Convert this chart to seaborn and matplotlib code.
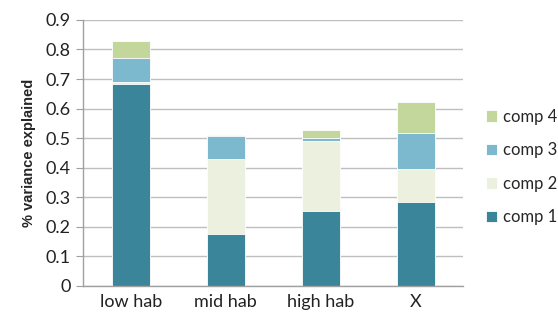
import matplotlib
matplotlib.use("Agg")
import matplotlib.pyplot as plt
import seaborn as sns
import pandas as pd
import numpy as np

categories = ["low hab", "mid hab", "high hab", "X"]
comp1 = [0.682, 0.175, 0.253, 0.284]
comp2 = [0.008, 0.256, 0.236, 0.112]
comp3 = [0.082, 0.076, 0.011, 0.121]
comp4 = [0.055, 0.004, 0.028, 0.107]

comp_names = ["comp 1", "comp 2", "comp 3", "comp 4"]
colors = ["#3A8599", "#EBF1DE", "#7CB9CF", "#C3D69B"]

df = pd.DataFrame({"cat": categories, "comp 1": comp1, "comp 2": comp2,
                   "comp 3": comp3, "comp 4": comp4})
cum = df[comp_names].cumsum(axis=1)

sns.set_style("white")
plt.rcParams["font.family"] = ["Lato", "DejaVu Sans"]

fig = plt.figure(figsize=(5.58, 3.16), dpi=100)
ax = fig.add_axes([0.149, 0.095, 0.681, 0.842])

# overlay cumulative totals, tallest first
for name, col in reversed(list(zip(comp_names, colors))):
    sns.barplot(x=df["cat"], y=cum[name], color=col, width=0.4, ax=ax,
                saturation=1, edgecolor="white", linewidth=0.6, label=name)

ax.set_ylim(0, 0.9)
ax.set_xlim(-0.5, 3.5)
ax.set_yticks(np.arange(0, 0.91, 0.1))
ax.set_yticklabels(["0"] + [f"{v:.1f}" for v in np.arange(0.1, 0.91, 0.1)])
ax.yaxis.grid(True, color="#BFBFBF", linewidth=1)
ax.set_axisbelow(True)
ax.set_xlabel("")
ax.set_ylabel("% variance explained", fontsize=10.5, fontweight="bold",
              family="Liberation Sans", labelpad=7)

for s in ["top", "right"]:
    ax.spines[s].set_visible(False)
for s in ["left", "bottom"]:
    ax.spines[s].set_color("#A0A0A0")
    ax.spines[s].set_linewidth(1)

ax.set_xticks(range(4))
ax.set_xticklabels(categories)
ax.set_xticks(np.arange(-0.5, 3.6, 1), minor=True)
ax.tick_params(axis="x", which="major", length=0, labelsize=13, pad=6, labelcolor="#222222")
ax.tick_params(axis="x", which="minor", length=5, color="#A0A0A0", direction="out")
ax.tick_params(axis="y", length=5, color="#A0A0A0", direction="out", labelsize=13,
               left=True, labelcolor="#222222", pad=4)

handles, labels = ax.get_legend_handles_labels()
leg = ax.legend(handles, labels, loc="center left", bbox_to_anchor=(1.06, 0.447),
                frameon=False, fontsize=12, handlelength=0.65, handleheight=0.65,
                labelspacing=1.05, handletextpad=0.4, borderpad=0, borderaxespad=0)

fig.savefig("out.png", dpi=100)
